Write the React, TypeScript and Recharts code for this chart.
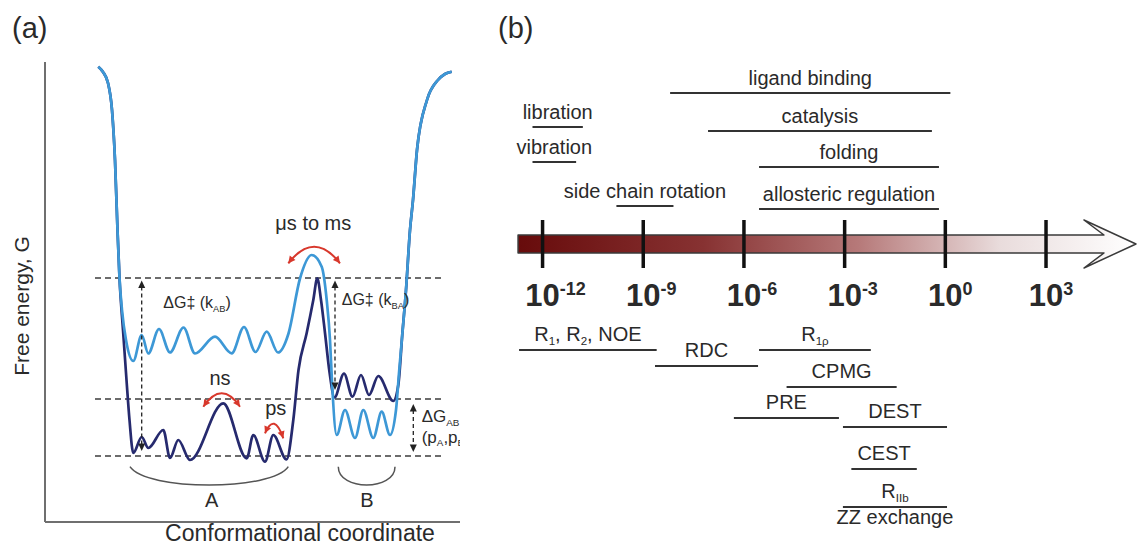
import React from 'react'
import {
  LineChart,
  ComposedChart,
  Line,
  XAxis,
  YAxis,
  ReferenceLine,
  ReferenceDot,
  ReferenceArea,
} from 'recharts'

const FONT = '"Liberation Sans", Arial, Helvetica, sans-serif'
const INK = '#2a2a2a'
const LIGHT = '#3d98d6'
const DARK = '#262a6e'
const RED = '#d8382c'

// ---------- (a) free energy landscape: [conformational coordinate, free energy G]
const darkLandscape = [
  [10.66, 91.06], [11.6, 90.0], [12.6, 87.8], [13.4, 82.4], [14.0, 72.4], [14.5, 58.4], [14.9, 48.8],
  [15.6, 38.4], [16.3, 28.4], [16.9, 20.4], [17.66, 13.8],
  [19.34, 17.0], [20.66, 14.8], [23.66, 18.4], [25.0, 12.8], [26.66, 16.4], [29.0, 12.4],
  [35.66, 23.74], [40.34, 12.74], [41.66, 17.4], [44.0, 12.06], [45.66, 17.4], [48.3, 12.5],
  [49.66, 20.4], [50.7, 30.4], [52.34, 37.8], [53.66, 44.4], [54.46, 48.74],
  [55.2, 44.4], [56.0, 37.8], [56.9, 30.0], [57.9, 24.9],
  [59.8, 29.7], [61.5, 25.06], [63.2, 29.4], [64.8, 25.4], [66.66, 29.2], [69.66, 24.2],
  [70.66, 27.4], [71.45, 37.4], [72.2, 46.4], [73.0, 58.4], [73.6, 64.4], [74.4, 74.4],
  [76.4, 84.4], [78.6, 88.4], [80.0, 89.6], [81.34, 90.06],
]
const lightLandscape = [
  [10.66, 91.06], [11.6, 90.0], [12.6, 87.8], [13.4, 82.4], [14.0, 72.4], [14.5, 58.4], [14.9, 48.8],
  [15.4, 42.4], [16.2, 36.4], [17.66, 32.2],
  [19.34, 37.4], [20.66, 33.7], [22.8, 38.6], [25.0, 33.9], [27.7, 38.9], [30.0, 33.7],
  [34.0, 37.06], [37.34, 33.74], [39.8, 39.0], [42.1, 34.0], [44.34, 38.06], [46.6, 33.9],
  [48.7, 37.7], [51.0, 48.7], [53.34, 53.4], [55.34, 51.06], [56.34, 44.4], [57.0, 36.4], [57.4, 28.0],
  [58.34, 17.4], [60.0, 22.4], [62.0, 16.8], [63.66, 22.4], [65.66, 16.8], [67.34, 22.06], [69.0, 17.4],
  [70.2, 22.4], [70.85, 30.4], [71.45, 37.4], [72.2, 46.4], [73.0, 58.4], [73.6, 64.4], [74.4, 74.4],
  [76.4, 84.4], [78.6, 88.4], [80.0, 89.6], [81.34, 90.06],
]

const energyLevels = [48.8, 24.6, 13.2]
const levelSpan = [10, 79.4]

// double headed dashed arrows: x, from G, to G
const gapArrowX = [19.34, 58.0, 73.66]
const gapArrowFrom = [48.3, 48.3, 23.6]
const gapArrowTo = [14.2, 26.4, 14.0]

// curved exchange arrows
const exchangeFrom = [[48.66, 51.74], [31.66, 23.06], [44.0, 17.74]]
const exchangeTo = [[59.0, 51.74], [39.0, 23.06], [47.66, 16.74]]

// state braces
const braceFrom = [[17.0, 11.06], [58.66, 11.06]]
const braceTo = [[48.66, 11.06], [70.0, 11.06]]

const noteText = ['ΔG‡ (k_{AB})', 'ΔG‡ (k_{BA})', 'ΔG_{AB}', '(p_{A},p_{B})', 'μs to ms', 'ns', 'ps', 'A', 'B']
const noteX = [23.66, 59.34, 75.34, 75.34, 53.66, 35.0, 46.14, 33.34, 64.4]
const noteG = [42.74, 43.4, 20.0, 15.9, 58.4, 27.4, 21.4, 3.06, 3.06]
const noteKind = ['small', 'small', 'mid', 'mid', 'big', 'big', 'big', 'big', 'big']

// ---------- (b) time scales (log10 seconds)
const timeExponents = [-12, -9, -6, -3, 0, 3]

const processNames = ['ligand binding', 'libration', 'catalysis', 'vibration', 'folding', 'side chain rotation', 'allosteric regulation']
const processFrom = [-8.2, -12.3, -7.07, -12.3, -5.55, -9.8, -5.55]
const processTo = [0.15, -10.8, -0.4, -11.0, -0.19, -8.1, -0.19]
const processLane = [9.3, 12.7, 13.1, 16.2, 16.7, 20.6, 20.9]

const methodNames = ['R_{1}, R_{2}, NOE', 'RDC', 'R_{1ρ}', 'CPMG', 'PRE', 'DEST', 'CEST', 'R_{IIb}', 'ZZ exchange']
const methodFrom = [-12.7, -8.65, -5.55, -4.73, -6.3, -3.05, -2.8, -3.05, -3.05]
const methodTo = [-8.6, -5.58, -2.22, -1.45, -3.17, 0.05, -0.85, 0.05, 0.05]
const methodLane = [35.0, 36.6, 35.0, 38.7, 41.8, 42.7, 46.9, 50.7, 50.7]
const methodLabelBelow = [false, false, false, false, false, false, false, false, true]

const toPts = (rows: number[][]) => rows.map(([x, g]) => ({ x, g }))

function parseRich(src: string) {
  const out: { t: string; k: string }[] = []
  const re = /([_^])\{([^}]*)\}/g
  let last = 0
  let m: RegExpExecArray | null
  while ((m = re.exec(src))) {
    if (m.index > last) out.push({ t: src.slice(last, m.index), k: 'n' })
    out.push({ t: m[2], k: m[1] === '_' ? 'sub' : 'sup' })
    last = re.lastIndex
  }
  if (last < src.length) out.push({ t: src.slice(last), k: 'n' })
  return out
}

function RichText({ x, y, text, size, anchor = 'middle', weight = 'normal' }: any) {
  let prev = 0
  return (
    <text x={x} y={y} fontSize={size} textAnchor={anchor} fontWeight={weight} fill={INK} fontFamily={FONT}>
      {parseRich(text).map((p, i) => {
        const shift = p.k === 'sub' ? size * 0.22 : p.k === 'sup' ? -size * 0.36 : 0
        const dy = shift - prev
        prev = shift
        return (
          <tspan key={i} dy={dy} fontSize={p.k === 'n' ? size : size * 0.58}>
            {p.t}
          </tspan>
        )
      })}
    </text>
  )
}

function GapArrow({ x1, y1, y2 }: any) {
  const top = Math.min(y1, y2)
  const bot = Math.max(y1, y2)
  return (
    <g>
      <line x1={x1} y1={top + 6} x2={x1} y2={bot - 6} stroke="#222" strokeWidth={1.3} strokeDasharray="4 3" />
      <path d={`M${x1},${top} l-3.5,7.5 l7,0 z`} fill="#222" />
      <path d={`M${x1},${bot} l-3.5,-7.5 l7,0 z`} fill="#222" />
    </g>
  )
}

function CurvedArrow({ x1, y1, x2, y2, bend }: any) {
  const cx = (x1 + x2) / 2
  const cy = (y1 + y2) / 2 - 2 * bend
  const head = (px: number, py: number) => {
    const dx = px - cx
    const dy = py - cy
    const len = Math.hypot(dx, dy)
    const ux = dx / len
    const uy = dy / len
    const bx = px - ux * 7
    const by = py - uy * 7
    return `M${px},${py} L${bx - uy * 3.6},${by + ux * 3.6} L${bx + uy * 3.6},${by - ux * 3.6} Z`
  }
  return (
    <g>
      <path d={`M${x1},${y1} Q${cx},${cy} ${x2},${y2}`} fill="none" stroke={RED} strokeWidth={2} />
      <path d={head(x1, y1)} fill={RED} />
      <path d={head(x2, y2)} fill={RED} />
    </g>
  )
}

function Brace({ x1, y1, x2, y2, depth, flat }: any) {
  const k = depth / 0.75
  const a = (x2 - x1) * flat
  return (
    <path
      d={`M${x1},${y1} C${x1 + a},${y1 + k} ${x2 - a},${y2 + k} ${x2},${y2}`}
      fill="none"
      stroke="#555"
      strokeWidth={1.5}
    />
  )
}

const noteStyle: Record<string, { size: number; anchor: string }> = {
  small: { size: 16, anchor: 'start' },
  mid: { size: 17, anchor: 'start' },
  big: { size: 20, anchor: 'middle' },
}

function LandscapePanel() {
  const arcBend = [16.6, 13.4, 12]
  const braceDepth = [18.3, 18.3]
  const braceFlat = [0.1, 0]
  return (
    <LineChart width={460} height={542} margin={{ top: 62, right: 0, bottom: 0, left: 0 }}>
      <XAxis
        type="number"
        dataKey="x"
        domain={[0, 83]}
        height={20}
        tick={false}
        tickLine={false}
        axisLine={{ stroke: '#6f6f6f', strokeWidth: 2 }}
        allowDataOverflow
        label={() => (
          <text x={300} y={541} textAnchor="middle" fontSize={23} fill={INK} fontFamily={FONT}>
            Conformational coordinate
          </text>
        )}
      />
      <YAxis
        type="number"
        domain={[0, 92]}
        width={45}
        tick={false}
        tickLine={false}
        axisLine={{ stroke: '#6f6f6f', strokeWidth: 2 }}
        allowDataOverflow
        label={() => (
          <text transform="translate(29,306) rotate(-90)" textAnchor="middle" fontSize={21} fill={INK} fontFamily={FONT}>
            Free energy, G
          </text>
        )}
      />
      {energyLevels.map((g) => (
        <ReferenceLine
          key={`lv${g}`}
          segment={[{ x: levelSpan[0], y: g }, { x: levelSpan[1], y: g }]}
          stroke="#3c3c3c"
          strokeWidth={1.6}
          strokeDasharray="6 4"
        />
      ))}
      <Line data={toPts(darkLandscape)} dataKey="g" type="monotone" stroke={DARK} strokeWidth={2.7} dot={false} isAnimationActive={false} />
      <Line data={toPts(lightLandscape)} dataKey="g" type="monotone" stroke={LIGHT} strokeWidth={2.7} dot={false} isAnimationActive={false} />
      {gapArrowX.map((x, i) => (
        <ReferenceLine
          key={`ga${i}`}
          segment={[{ x, y: gapArrowFrom[i] }, { x, y: gapArrowTo[i] }]}
          shape={(p: any) => <GapArrow {...p} />}
        />
      ))}
      {exchangeFrom.map((f, i) => (
        <ReferenceLine
          key={`ex${i}`}
          segment={[{ x: f[0], y: f[1] }, { x: exchangeTo[i][0], y: exchangeTo[i][1] }]}
          shape={(p: any) => <CurvedArrow {...p} bend={arcBend[i]} />}
        />
      ))}
      {braceFrom.map((f, i) => (
        <ReferenceLine
          key={`br${i}`}
          segment={[{ x: f[0], y: f[1] }, { x: braceTo[i][0], y: braceTo[i][1] }]}
          shape={(p: any) => <Brace {...p} depth={braceDepth[i]} flat={braceFlat[i]} />}
        />
      ))}
      {noteText.map((t, i) => (
        <ReferenceDot
          key={`nt${i}`}
          x={noteX[i]}
          y={noteG[i]}
          shape={(p: any) => (
            <RichText x={p.cx} y={p.cy} text={t} size={noteStyle[noteKind[i]].size} anchor={noteStyle[noteKind[i]].anchor} />
          )}
        />
      ))}
    </LineChart>
  )
}

function TimeArrow({ x, y, width, height }: any) {
  const top = y + height * 0.3125
  const bot = y + height * 0.6875
  const tip = x + width
  const neck = tip - 32
  const barb = tip - 52
  const d = `M${x},${top} L${neck},${top} L${barb},${y} L${tip},${y + height / 2} L${barb},${y + height} L${neck},${bot} L${x},${bot} Z`
  return <path d={d} fill="url(#timeGrad)" stroke="#3a3a3a" strokeWidth={1.5} strokeLinejoin="round" />
}

function TimescalePanel() {
  const rows = timeExponents.map((e) => ({ e }))
  return (
    <ComposedChart width={640} height={542} data={rows} margin={{ top: 0, right: 0, bottom: 0, left: 9 }}>
      <defs>
        <linearGradient id="timeGrad" x1="0" y1="0" x2="1" y2="0">
          <stop offset="0" stopColor="#670b0b" />
          <stop offset="0.3" stopColor="#873232" />
          <stop offset="0.55" stopColor="#b67979" />
          <stop offset="0.78" stopColor="#e9dcdc" />
          <stop offset="1" stopColor="#ffffff" />
        </linearGradient>
      </defs>
      <XAxis type="number" dataKey="e" domain={[-13, 5.8]} hide allowDataOverflow />
      <YAxis type="number" domain={[0, 54.2]} reversed hide allowDataOverflow />
      <ReferenceArea
        x1={-12.73}
        x2={5.68}
        y1={22.0}
        y2={26.8}
        ifOverflow="visible"
        shape={(p: any) => <TimeArrow {...p} />}
      />
      {timeExponents.map((e) => (
        <ReferenceLine
          key={`tk${e}`}
          segment={[{ x: e, y: 22.0 }, { x: e, y: 26.8 }]}
          stroke="#111"
          strokeWidth={3.5}
          label={(p: any) => (
            <RichText
              x={p.viewBox.x - 0.556 * 31}
              y={p.viewBox.y + p.viewBox.height + 38}
              text={`10^{${e}}`}
              size={31}
              anchor="start"
              weight="bold"
            />
          )}
        />
      ))}
      {processNames.map((name, i) => (
        <ReferenceLine
          key={`pr${i}`}
          segment={[{ x: processFrom[i], y: processLane[i] }, { x: processTo[i], y: processLane[i] }]}
          stroke="#333"
          strokeWidth={2.2}
          label={(p: any) => (
            <RichText x={p.viewBox.x + p.viewBox.width / 2} y={p.viewBox.y - 8} text={name} size={20} />
          )}
        />
      ))}
      {methodNames.map((name, i) => (
        <ReferenceLine
          key={`me${i}`}
          segment={[{ x: methodFrom[i], y: methodLane[i] }, { x: methodTo[i], y: methodLane[i] }]}
          stroke="#333"
          strokeWidth={2.2}
          label={(p: any) => (
            <RichText
              x={p.viewBox.x + p.viewBox.width / 2}
              y={methodLabelBelow[i] ? p.viewBox.y + 17 : p.viewBox.y - 9}
              text={name}
              size={20}
            />
          )}
        />
      ))}
    </ComposedChart>
  )
}

export default function App() {
  return (
    <div style={{ position: 'absolute', left: 0, top: 0, width: 1140, height: 542, background: '#fff' }}>
      <div style={{ position: 'absolute', left: 0, top: 0 }}>
        <LandscapePanel />
      </div>
      <div style={{ position: 'absolute', left: 500, top: 0 }}>
        <TimescalePanel />
      </div>
      <svg width={1140} height={50} style={{ position: 'absolute', left: 0, top: 0 }}>
        <text x={12} y={38} fontSize={29} fill={INK} fontFamily={FONT}>(a)</text>
        <text x={498} y={38} fontSize={29} fill={INK} fontFamily={FONT}>(b)</text>
      </svg>
    </div>
  )
}
